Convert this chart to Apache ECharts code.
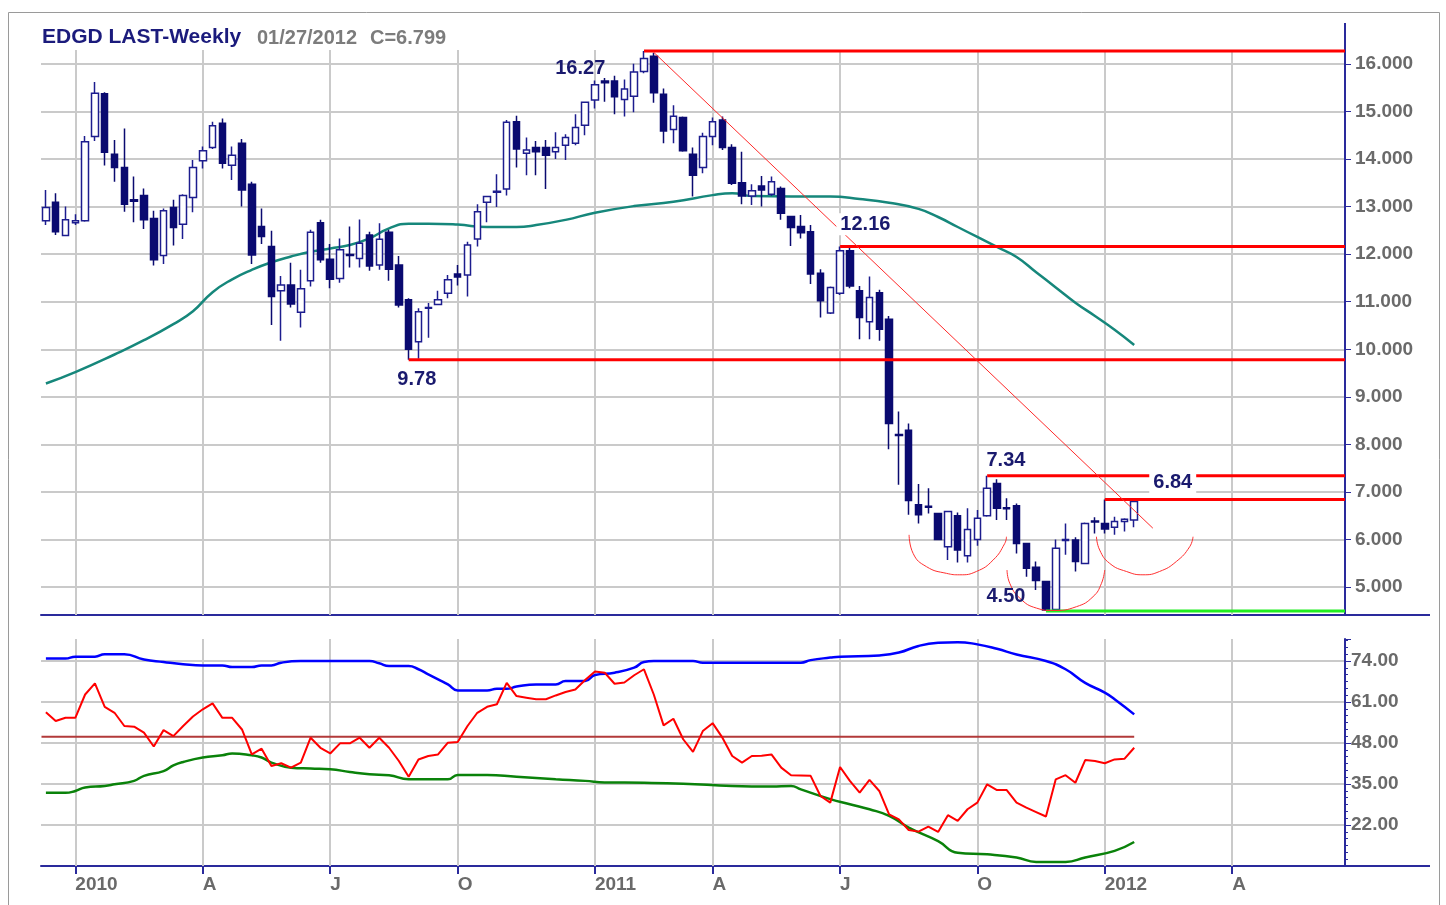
<!DOCTYPE html>
<html><head><meta charset="utf-8">
<script src="https://cdn.jsdelivr.net/npm/echarts@6/dist/echarts.min.js"></script>
<style>html,body{margin:0;padding:0;background:#fff}#c{width:1446px;height:905px}</style>
</head><body><div id="c"></div>
<script>
// ---------- DATA ----------
const firstWeek = [2009, 11, 11];   // Friday, Dec 11 2009
const weekCount = 133;               // axis spans to June 2012
const quarterTicks = [['2010-01-01','2010'],['2010-04-02','A'],['2010-07-02','J'],['2010-10-01','O'],
  ['2011-01-07','2011'],['2011-04-01','A'],['2011-07-01','J'],['2011-10-07','O'],['2012-01-06','2012'],['2012-04-06','A']];

const opens = [12.70,13.09,12.39,12.66,12.70,14.47,15.37,14.10,13.82,13.14,
 13.23,12.75,11.97,12.98,12.63,13.19,13.96,14.24,14.75,13.87,
 14.33,13.47,12.58,12.16,11.23,11.35,10.78,11.44,12.66,11.89,
 11.49,11.99,11.91,12.40,11.77,12.46,11.77,11.04,10.16,10.86,
 10.94,11.18,11.58,11.56,12.32,13.09,13.30,13.37,14.78,14.12,
 14.24,14.24,14.15,14.29,14.33,14.71,15.24,15.64,15.64,15.25,
 15.32,15.84,16.16,15.36,14.62,14.87,14.10,13.82,14.47,14.82,
 14.24,13.50,13.22,13.43,13.26,13.38,12.79,12.58,12.47,11.60,
 10.76,11.18,12.07,11.23,10.58,11.19,10.63,8.21,8.30,6.73,
 6.70,6.55,5.85,6.50,5.66,6.00,6.50,7.18,6.67,6.71,
 5.92,5.42,5.12,4.53,5.98,5.99,5.50,6.39,6.34,6.26,
 6.38,6.41];
const closes = [12.98,12.47,12.72,12.70,14.36,15.38,14.14,13.82,13.05,13.11,
 12.72,11.88,12.91,12.56,13.23,13.82,14.17,14.70,13.91,14.08,
 13.35,11.98,12.37,11.11,11.35,10.95,11.27,12.46,11.88,11.47,
 12.09,11.97,12.23,11.75,12.31,11.68,10.93,10.00,10.79,10.88,
 11.04,11.46,11.52,12.19,12.89,13.21,13.32,14.77,14.21,14.19,
 14.15,14.08,14.24,14.45,14.66,15.19,15.56,15.60,15.31,15.47,
 15.83,16.11,15.39,14.59,14.90,14.17,13.66,14.47,14.78,14.24,
 13.49,13.22,13.33,13.35,13.52,12.86,12.56,12.45,11.58,11.02,
 11.30,12.07,11.33,10.67,11.09,10.42,8.44,8.19,6.82,6.52,
 6.68,6.00,6.59,5.78,6.21,6.45,7.08,6.66,6.65,5.92,
 5.40,5.14,4.52,5.82,6.00,5.54,6.34,6.37,6.22,6.38,
 6.43,6.80];
const lows = [12.61,12.40,12.38,12.61,12.68,14.38,13.86,13.52,12.89,12.67,
 12.53,11.76,11.79,12.18,12.32,12.88,13.80,14.21,13.80,13.56,
 13.00,11.79,12.21,10.51,10.18,10.88,10.46,11.32,11.82,11.28,
 11.40,11.72,11.72,11.65,11.67,11.44,10.88,9.78,9.80,10.24,
 10.94,11.07,11.34,11.11,12.16,12.67,12.99,13.23,13.82,13.66,
 13.66,13.37,14.00,13.98,14.29,14.50,15.06,15.20,14.94,14.89,
 14.98,15.80,15.18,14.33,14.33,14.15,13.21,13.70,14.29,14.19,
 13.45,13.05,13.03,13.00,13.22,12.72,12.17,12.33,11.37,10.67,
 10.74,11.14,11.28,10.21,10.21,10.18,7.90,7.15,6.52,6.34,
 6.55,5.99,5.57,5.52,5.52,5.87,6.48,6.41,6.41,5.71,
 5.22,4.94,4.50,4.52,5.68,5.33,5.48,6.13,6.13,6.10,
 6.17,6.26];
const highs = [13.35,13.28,13.00,12.84,14.48,15.62,15.40,14.40,14.64,13.63,
 13.38,12.91,12.96,13.14,13.26,13.98,14.26,14.78,14.85,14.26,
 14.42,13.52,12.96,12.49,11.54,11.82,11.67,12.51,12.72,12.21,
 12.33,12.58,12.73,12.47,12.65,12.51,11.96,11.07,10.86,10.97,
 11.23,11.56,11.77,12.26,13.05,13.22,13.68,14.82,14.91,14.45,
 14.38,14.40,14.56,14.52,14.94,15.19,15.65,15.70,15.75,15.67,
 16.00,16.27,16.23,15.48,15.13,14.89,14.24,14.55,14.87,14.89,
 14.31,14.15,13.47,13.64,13.63,13.42,12.80,12.82,12.61,11.68,
 11.32,12.16,12.17,11.33,11.53,11.25,10.70,8.69,8.44,7.17,
 7.08,6.55,6.59,6.57,6.66,6.62,7.34,7.27,6.87,6.76,
 5.92,5.54,5.12,6.00,6.34,6.05,6.36,6.47,6.84,6.48,
 6.45,6.87];

// moving average at [week index, price]
const maPoints = [[0,9.28],[3,9.52],[7,9.89],[10,10.19],[13,10.53],[15,10.80],[17,11.20],[19,11.47],[21,11.67],
 [23,11.83],[25,11.95],[27,12.05],[29,12.12],[31,12.19],[33,12.33],[35,12.54],[37,12.64],[39,12.64],[42,12.62],
 [45,12.57],[48,12.57],[50,12.61],[53,12.72],[56,12.87],[60,13.01],[64,13.10],[68,13.24],[70,13.28],[72,13.22],
 [76,13.21],[80,13.21],[83,13.16],[86,13.08],[89,12.95],[91,12.78],[93,12.57],[95,12.36],[97,12.15],[99,11.94],
 [101,11.62],[103,11.30],[105,10.98],[107,10.70],[109,10.41],[111,10.09]];

// support / resistance levels: [start week index, price]
const redLevels = [[61,16.27],[81,12.16],[37,9.78],[96,7.34],[108,6.84]];
const greenLevel = [102,4.50];
const trendLine = [[61.95,16.25],[112.9,6.24]];
const arcs = [
 [[88.04,6.10],[88.45,5.71],[89.82,5.43],[91.86,5.29],[93.21,5.26],[94.91,5.33],[96.61,5.57],[97.80,5.92],[97.97,6.06]],
 [[98.03,5.36],[98.31,5.08],[99.33,4.77],[101.03,4.56],[102.72,4.51],[105.11,4.59],[106.80,4.80],[107.66,5.08],[107.99,5.36]],
 [[107.15,6.06],[107.48,5.78],[108.50,5.50],[110.20,5.33],[111.89,5.26],[113.59,5.33],[115.30,5.54],[116.66,5.85],[117.0,6.06]]
];
const priceNotes = [[54.5,15.91,'16.27',false],[37.83,9.37,'9.78',false],[83.58,12.63,'12.16',true],
 [97.92,7.66,'7.34',false],[114.93,7.20,'6.84',true],[97.92,4.80,'4.50',false]];

// lower panel
const rsi = [57.8,55.0,56.0,56.0,63.4,66.9,59.5,57.6,53.4,53.2,
 51.3,46.9,52.1,50.2,53.4,56.4,58.7,60.6,56.0,56.0,
 52.3,44.4,46.2,40.7,41.6,40.2,41.8,49.7,46.5,44.7,
 47.9,47.9,49.7,46.5,49.7,46.5,42.3,37.3,42.8,43.9,
 44.4,48.1,48.3,53.4,57.6,59.5,60.3,67.1,62.9,62.4,
 61.9,61.9,63.1,64.2,65.0,68.0,70.7,70.3,66.8,67.2,
 69.5,71.4,63.4,53.6,55.7,49.2,45.2,51.8,54.3,49.7,
 43.9,41.8,43.9,44.0,44.4,40.2,37.8,37.7,37.6,31.2,
 29.1,40.4,36.0,32.3,36.3,32.8,25.4,23.8,20.4,19.9,
 21.5,19.8,25.1,23.3,27.0,29.1,34.9,33.1,33.1,29.1,
 27.5,26.1,24.7,36.5,37.8,35.4,42.6,42.3,41.6,42.8,
 43.0,46.5];
const upperBand = [[0,74.8],[2,74.8],[3,75.4],[5,75.4],[6,76.2],[8,76.2],[10,74.5],[12,73.7],[14,73.0],[16,72.6],
 [18,72.6],[19,72.1],[21,72.1],[22,72.6],[23,72.6],[24,73.5],[26,74.0],[33,74.0],[34,73.3],[35,72.4],[37,72.4],
 [38,71.4],[39,69.8],[40,68.2],[41,66.6],[42,64.7],[45,64.7],[46,65.2],[47,65.2],[48,65.9],[50,66.6],[52,66.6],
 [53,67.7],[55,67.7],[56,69.6],[58,70.3],[60,71.9],[61,73.7],[62,74.0],[66,74.0],[67,73.5],[77,73.5],[78,74.3],
 [80,75.1],[81,75.4],[85,75.8],[87,76.7],[89,78.8],[91,79.8],[93,80.0],[95,79.3],[97,77.9],[99,76.1],[102,74.0],
 [104,71.4],[106,67.1],[108,64.0],[109,61.9],[111,57.1]];
const lowerBand = [[0,32.2],[2,32.2],[3,32.8],[4,33.9],[6,34.4],[7,34.9],[9,36.0],[10,37.6],[12,39.1],[13,40.9],
 [14,42.0],[16,43.4],[18,44.1],[19,44.7],[21,44.1],[22,43.4],[23,41.8],[25,40.2],[27,39.9],[29,39.7],[31,38.8],
 [33,38.1],[35,37.8],[37,36.5],[41,36.5],[42,37.9],[45,37.9],[48,37.3],[52,36.5],[55,36.0],[57,35.5],[61,35.4],
 [65,35.1],[70,34.4],[74,34.2],[76,34.4],[77,33.3],[80,30.2],[82,28.6],[84,27.0],[86,24.9],[88,21.2],[91,16.9],
 [93,13.2],[96,12.7],[99,11.7],[101,10.3],[104,10.3],[106,11.7],[109,13.8],[111,16.6]];
const midLevel = 50;

// ---------- BUILD ----------
const categories = [];
const t0 = Date.UTC(firstWeek[0], firstWeek[1], firstWeek[2]);
for (let k = 0; k < weekCount; k++) categories.push(new Date(t0 + k * 7 * 86400000).toISOString().slice(0, 10));
const tickMap = Object.fromEntries(quarterTicks);
const quarterIdx = quarterTicks.map(q => categories.indexOf(q[0]));
const isQuarter = (i, v) => tickMap[v] !== undefined;

const candles = opens.map((o, k) => [o, closes[k], lows[k], highs[k]]);
const lastIdx = closes.length - 1;
const axisEnd = weekCount - 0.5;

const NAVY = '#2a2a9c';
const GRID = '#cacaca';
const FONT = '"Liberation Sans", Arial, sans-serif';

const vGrid = {
  silent: true, symbol: 'none', z: 1, animation: false,
  label: { show: false }, emphasis: { disabled: true },
  lineStyle: { color: GRID, width: 2, type: 'solid' },
  data: quarterIdx.map(k => ({ xAxis: k }))
};

const series = [];
series.push({
  type: 'candlestick', xAxisIndex: 0, yAxisIndex: 0, data: candles, barWidth: 7, z: 3,
  itemStyle: { color: '#ffffff', color0: '#0a0a70', borderColor: '#1c1c8e', borderColor0: '#0a0a70', borderWidth: 1.5 }
});
series.push({
  type: 'line', xAxisIndex: 2, yAxisIndex: 0, data: maPoints, smooth: true, showSymbol: false, z: 2,
  lineStyle: { color: '#16877b', width: 2.5 }, markLine: vGrid
});
redLevels.forEach(([s, v]) => series.push({
  type: 'line', xAxisIndex: 2, yAxisIndex: 0, data: [[s, v], [axisEnd, v]], showSymbol: false, z: 4,
  lineStyle: { color: '#ff0000', width: 3 }
}));
series.push({
  type: 'line', xAxisIndex: 2, yAxisIndex: 0, data: [greenLevel, [axisEnd, greenLevel[1]]], showSymbol: false, z: 4,
  lineStyle: { color: '#22ee22', width: 3 }
});
series.push({
  type: 'line', xAxisIndex: 2, yAxisIndex: 0, data: trendLine, showSymbol: false, z: 4,
  lineStyle: { color: '#ff2a2a', width: 1 }
});
arcs.forEach(a => series.push({
  type: 'line', xAxisIndex: 2, yAxisIndex: 0, data: a, smooth: 0.5, showSymbol: false, z: 4,
  lineStyle: { color: '#ff3030', width: 1 }
}));
series.push({
  type: 'scatter', xAxisIndex: 2, yAxisIndex: 0, symbolSize: 2, z: 6, silent: true,
  itemStyle: { color: 'rgba(255,255,255,0)', opacity: 1 },
  data: priceNotes.map(n => ({
    value: [n[0], n[1]],
    label: {
      show: true, position: 'inside', formatter: n[2], opacity: 1, textBorderWidth: 0,
      color: '#1a1a6e', fontSize: 20, fontWeight: 'bold', fontFamily: FONT,
      backgroundColor: n[3] ? '#ffffff' : 'transparent', padding: [1, 4]
    }
  }))
});
// lower panel
series.push({
  type: 'line', xAxisIndex: 3, yAxisIndex: 1, data: [[-0.45, midLevel], [lastIdx, midLevel]], showSymbol: false, z: 2,
  lineStyle: { color: '#b23a3a', width: 2 }, markLine: vGrid
});
series.push({
  type: 'line', xAxisIndex: 3, yAxisIndex: 1, data: upperBand, smooth: true, showSymbol: false, z: 3,
  lineStyle: { color: '#0000ff', width: 2.5 }
});
series.push({
  type: 'line', xAxisIndex: 3, yAxisIndex: 1, data: lowerBand, smooth: true, showSymbol: false, z: 3,
  lineStyle: { color: '#0a820a', width: 2.5 }
});
series.push({
  type: 'line', xAxisIndex: 3, yAxisIndex: 1, data: rsi.map((v, k) => [k, v]), showSymbol: false, z: 4,
  lineStyle: { color: '#ff0000', width: 2 }
});

const axisLabelStyle = { color: '#6a6a6a', fontSize: 19, fontWeight: 'bold', fontFamily: FONT };

const option = {
  animation: false,
  backgroundColor: '#ffffff',
  grid: [
    { left: 41, right: 101, top: 50, height: 565, outerBoundsMode: 'none' },
    { left: 41, right: 101, top: 639, height: 227, outerBoundsMode: 'none' }
  ],
  xAxis: [
    { type: 'category', gridIndex: 0, data: categories, boundaryGap: true,
      axisLine: { show: true, onZero: false, lineStyle: { color: NAVY, width: 2 } }, axisTick: { show: false },
      axisLabel: { show: false }, splitLine: { show: false } },
    { type: 'category', gridIndex: 1, data: categories, boundaryGap: true,
      axisLine: { show: true, onZero: false, lineStyle: { color: NAVY, width: 2 } },
      axisTick: { show: true, interval: isQuarter, alignWithLabel: true, length: 8, lineStyle: { color: NAVY, width: 2 } },
      axisLabel: Object.assign({ show: true, interval: isQuarter, formatter: v => tickMap[v] || '', align: 'left', margin: 9 }, axisLabelStyle),
      splitLine: { show: false } },
    { type: 'value', gridIndex: 0, min: -0.5, max: axisEnd, show: false, axisLine: { onZero: false }, splitLine: { show: false } },
    { type: 'value', gridIndex: 1, min: -0.5, max: axisEnd, show: false, axisLine: { onZero: false }, splitLine: { show: false } }
  ],
  yAxis: [
    { type: 'value', gridIndex: 0, position: 'right', min: 4.415, max: 16.29, minInterval: 1, maxInterval: 1, splitNumber: 12, scale: true,
      axisLine: { show: true, onZero: false, lineStyle: { color: NAVY, width: 2 } },
      axisTick: { show: true, length: 6, lineStyle: { color: NAVY } },
      axisLabel: Object.assign({ margin: 10, showMinLabel: false, showMaxLabel: false, formatter: v => v.toFixed(3) }, axisLabelStyle),
      splitLine: { show: true, showMinLine: false, showMaxLine: false, lineStyle: { color: GRID, width: 2 } } },
    { type: 'value', gridIndex: 1, position: 'right', min: 9, max: 81, interval: 13,
      axisLine: { show: true, onZero: false, lineStyle: { color: NAVY, width: 2 } },
      axisTick: { show: true, length: 6, lineStyle: { color: NAVY } },
      minorTick: { show: true, splitNumber: 6, length: 3, lineStyle: { color: NAVY } },
      axisLabel: Object.assign({ margin: 6, showMinLabel: false, showMaxLabel: false, formatter: v => v.toFixed(2) }, axisLabelStyle),
      splitLine: { show: true, showMinLine: false, showMaxLine: false, lineStyle: { color: GRID, width: 2 } } }
  ],
  graphic: [
    { type: 'rect', shape: { x: 8.5, y: 12.5, width: 1431, height: 900 }, style: { fill: 'none', stroke: '#9a9a9a', lineWidth: 1 }, z: -10, silent: true },
    { type: 'line', shape: { x1: 1345, y1: 23, x2: 1345, y2: 50 }, style: { stroke: NAVY, lineWidth: 2 }, silent: true },
    { type: 'line', shape: { x1: 1345, y1: 615, x2: 1430, y2: 615 }, style: { stroke: NAVY, lineWidth: 2 }, silent: true },
    { type: 'line', shape: { x1: 1345, y1: 866, x2: 1430, y2: 866 }, style: { stroke: NAVY, lineWidth: 2 }, silent: true },
    { type: 'text', left: 42, top: 27, style: { text: 'EDGD LAST-Weekly', font: 'bold 21px ' + FONT, fill: '#1b1b7c' }, silent: true },
    { type: 'text', left: 257, top: 28, style: { text: '01/27/2012', font: 'bold 20px ' + FONT, fill: '#7c7c7c' }, silent: true },
    { type: 'text', left: 370, top: 28, style: { text: 'C=6.799', font: 'bold 20px ' + FONT, fill: '#7c7c7c' }, silent: true }
  ],
  series: series
};

const chart = echarts.init(document.getElementById('c'), null, { renderer: 'canvas' });
chart.setOption(option);
</script>
</body></html>
